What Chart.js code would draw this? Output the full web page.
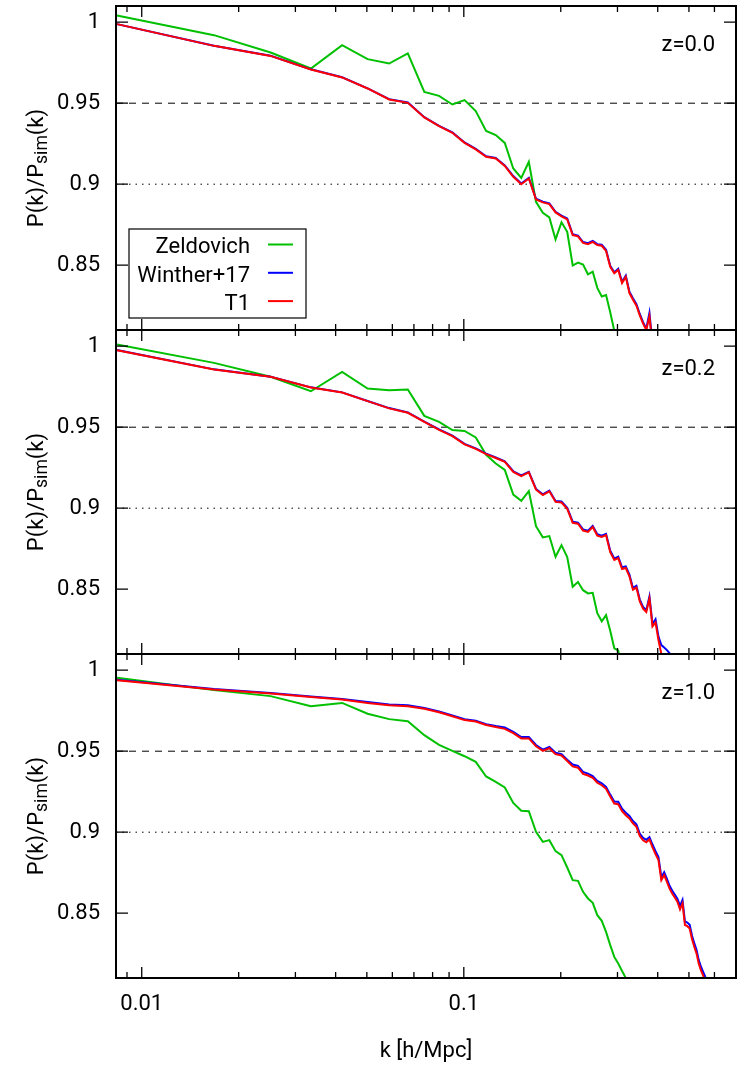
<!DOCTYPE html>
<html>
<head>
<meta charset="utf-8">
<title>P(k)/Psim(k)</title>
<script src="https://cdn.jsdelivr.net/npm/chart.js@4.4.1/dist/chart.umd.min.js"></script>
<style>
  html, body { margin: 0; background: #fff; }
  #wrap { position: relative; width: 744px; height: 1065px; background: #fff; }
  .panel { position: absolute; left: 0; width: 744px; }
</style>
</head>
<body>
<div id="wrap">
  <div class="panel" style="top:0px;height:332px"><canvas id="p0"></canvas></div>
  <div class="panel" style="top:328px;height:328px"><canvas id="p1"></canvas></div>
  <div class="panel" style="top:652px;height:413px"><canvas id="p2"></canvas></div>
</div>
<script>
const FONT = 'Roboto, "Liberation Sans", Arial, sans-serif';

// k bins [h/Mpc]
const kValues = [0.00838, 0.01676, 0.02513, 0.03351, 0.04189, 0.05027, 0.05864, 0.06702, 0.07540, 0.08378,
  0.09215, 0.10053, 0.10891, 0.11729, 0.12566, 0.13404, 0.14242, 0.15080, 0.15917, 0.16755,
  0.17593, 0.18431, 0.19268, 0.20106, 0.20944, 0.21782, 0.22619, 0.23457, 0.24295, 0.25133,
  0.25970, 0.26808, 0.27646, 0.28484, 0.29322, 0.30159, 0.30997, 0.31835, 0.32673, 0.33510,
  0.34348, 0.35186, 0.36024, 0.36861, 0.37699, 0.38537, 0.39375, 0.40212, 0.41050, 0.41888,
  0.42726, 0.43563, 0.44401, 0.45239, 0.46077, 0.46914, 0.47752, 0.48590, 0.49428, 0.50265,
  0.51103, 0.51941, 0.52779, 0.53617, 0.54454, 0.55292, 0.56130, 0.56968];

// z = 0.0
const zeldovichZ00 = [1.0041, 0.9920, 0.9813, 0.9714, 0.9858, 0.9772, 0.9745, 0.9807, 0.9570, 0.9545,
  0.9492, 0.9519, 0.9451, 0.9329, 0.9303, 0.9255, 0.9097, 0.9039, 0.9138, 0.8891,
  0.8823, 0.8795, 0.8659, 0.8765, 0.8706, 0.8498, 0.8516, 0.8504, 0.8444, 0.8460,
  0.8360, 0.8307, 0.8316, 0.8209, 0.8095, 0.8000];
const wintherZ00 = [0.9988, 0.9855, 0.9793, 0.9709, 0.9660, 0.9592, 0.9525, 0.9504, 0.9414, 0.9360,
  0.9320, 0.9258, 0.9218, 0.9172, 0.9162, 0.9116, 0.9050, 0.9004, 0.9039, 0.8910,
  0.8892, 0.8881, 0.8830, 0.8806, 0.8788, 0.8691, 0.8683, 0.8643, 0.8636, 0.8650,
  0.8630, 0.8626, 0.8595, 0.8497, 0.8457, 0.8478, 0.8398, 0.8436, 0.8336, 0.8296,
  0.8259, 0.8199, 0.8149, 0.8108, 0.8206, 0.8010, 0.7950];
const t1Z00 = [0.9988, 0.9854, 0.9792, 0.9708, 0.9659, 0.9591, 0.9523, 0.9502, 0.9412, 0.9358,
  0.9317, 0.9255, 0.9215, 0.9169, 0.9159, 0.9113, 0.9046, 0.9000, 0.9035, 0.8906,
  0.8888, 0.8877, 0.8826, 0.8802, 0.8783, 0.8686, 0.8678, 0.8638, 0.8630, 0.8644,
  0.8624, 0.8620, 0.8588, 0.8490, 0.8450, 0.8470, 0.8390, 0.8428, 0.8328, 0.8287,
  0.8250, 0.8190, 0.8140, 0.8100, 0.8185, 0.8000];

// z = 0.2
const zeldovichZ02 = [1.0010, 0.9897, 0.9811, 0.9722, 0.9841, 0.9739, 0.9728, 0.9733, 0.9570, 0.9533,
  0.9482, 0.9477, 0.9437, 0.9330, 0.9276, 0.9237, 0.9084, 0.9046, 0.9106, 0.8889,
  0.8820, 0.8828, 0.8700, 0.8772, 0.8698, 0.8515, 0.8544, 0.8494, 0.8474, 0.8478,
  0.8352, 0.8302, 0.8340, 0.8243, 0.8135, 0.8122, 0.8000];
const wintherZ02 = [0.9976, 0.9857, 0.9812, 0.9746, 0.9715, 0.9662, 0.9618, 0.9591, 0.9535, 0.9486,
  0.9448, 0.9397, 0.9369, 0.9337, 0.9313, 0.9289, 0.9228, 0.9202, 0.9225, 0.9119,
  0.9086, 0.9109, 0.9045, 0.9041, 0.9002, 0.8917, 0.8911, 0.8869, 0.8861, 0.8891,
  0.8839, 0.8830, 0.8842, 0.8737, 0.8689, 0.8701, 0.8635, 0.8641, 0.8590, 0.8508,
  0.8521, 0.8436, 0.8391, 0.8370, 0.8455, 0.8285, 0.8314, 0.8207, 0.8155, 0.8140,
  0.8124, 0.8104, 0.8080];
const t1Z02 = [0.9975, 0.9856, 0.9811, 0.9745, 0.9714, 0.9661, 0.9616, 0.9589, 0.9533, 0.9484,
  0.9445, 0.9394, 0.9366, 0.9334, 0.9310, 0.9286, 0.9224, 0.9198, 0.9221, 0.9114,
  0.9081, 0.9104, 0.9039, 0.9035, 0.8996, 0.8910, 0.8904, 0.8862, 0.8854, 0.8884,
  0.8831, 0.8822, 0.8834, 0.8728, 0.8680, 0.8692, 0.8625, 0.8631, 0.8580, 0.8497,
  0.8510, 0.8425, 0.8380, 0.8359, 0.8443, 0.8270, 0.8295, 0.8186, 0.8100, 0.8000];

// z = 1.0
const zeldovichZ10 = [0.9953, 0.9877, 0.9840, 0.9778, 0.9798, 0.9731, 0.9698, 0.9685, 0.9599, 0.9539,
  0.9502, 0.9469, 0.9434, 0.9344, 0.9311, 0.9276, 0.9181, 0.9132, 0.9130, 0.9002,
  0.8940, 0.8951, 0.8883, 0.8858, 0.8782, 0.8704, 0.8700, 0.8632, 0.8591, 0.8564,
  0.8488, 0.8453, 0.8385, 0.8303, 0.8230, 0.8190, 0.8143, 0.8100, 0.8000];
const wintherZ10 = [0.9941, 0.9884, 0.9859, 0.9838, 0.9822, 0.9803, 0.9789, 0.9783, 0.9767, 0.9745,
  0.9721, 0.9697, 0.9688, 0.9667, 0.9655, 0.9646, 0.9620, 0.9587, 0.9587, 0.9538,
  0.9510, 0.9526, 0.9490, 0.9482, 0.9448, 0.9418, 0.9410, 0.9372, 0.9362, 0.9347,
  0.9317, 0.9302, 0.9280, 0.9232, 0.9189, 0.9188, 0.9145, 0.9120, 0.9100, 0.9069,
  0.9048, 0.8991, 0.8965, 0.8953, 0.8970, 0.8924, 0.8883, 0.8846, 0.8722, 0.8753,
  0.8712, 0.8668, 0.8638, 0.8613, 0.8588, 0.8545, 0.8582, 0.8449, 0.8442, 0.8428,
  0.8362, 0.8315, 0.8274, 0.8212, 0.8171, 0.8140, 0.8110, 0.8070];
const t1Z10 = [0.9938, 0.9881, 0.9856, 0.9835, 0.9819, 0.9798, 0.9784, 0.9778, 0.9762, 0.9740,
  0.9716, 0.9692, 0.9683, 0.9662, 0.9650, 0.9638, 0.9612, 0.9579, 0.9579, 0.9530,
  0.9502, 0.9518, 0.9482, 0.9474, 0.9440, 0.9406, 0.9398, 0.9360, 0.9350, 0.9335,
  0.9305, 0.9290, 0.9268, 0.9220, 0.9177, 0.9173, 0.9130, 0.9105, 0.9085, 0.9054,
  0.9033, 0.8976, 0.8950, 0.8938, 0.8955, 0.8906, 0.8865, 0.8828, 0.8704, 0.8735,
  0.8694, 0.8650, 0.8620, 0.8595, 0.8570, 0.8523, 0.8560, 0.8427, 0.8420, 0.8406,
  0.8340, 0.8293, 0.8252, 0.8190, 0.8149, 0.8118, 0.8080];

const seriesNames = ['Zeldovich', 'Winther+17', 'T1'];
const seriesColors = ['#00c000', '#0000ff', '#ff0000'];
const redshiftLabels = ['z=0.0', 'z=0.2', 'z=1.0'];

const xMin = 0.00832, xMax = 0.70;
const yMin = 0.81, yMax = 1.01;
const yTickValues = [0.85, 0.9, 0.95, 1];
const yTickLabels = ['0.85', '0.9', '0.95', '1'];
const xMajorTicks = [0.01, 0.1];
const xTickLabels = ['0.01', '0.1'];
const xMinorTicks = [0.009, 0.02, 0.03, 0.04, 0.05, 0.06, 0.07, 0.08, 0.09, 0.2, 0.3, 0.4, 0.5, 0.6];
const dashedLevel = 0.95, dottedLevel = 0.9;

const pts = vals => vals.map((v, i) => ({ x: kValues[i], y: v }));

// frame, inward ticks, labels and legend (gnuplot look)
const decoPlugin = {
  id: 'deco',
  afterDraw(chart, args, o) {
    const { ctx, chartArea: a } = chart;
    const xs = chart.scales.x, ys = chart.scales.y;
    ctx.save();
    ctx.strokeStyle = '#000';
    ctx.lineWidth = 1.3;
    ctx.beginPath();
    yTickValues.forEach(v => {
      const py = ys.getPixelForValue(v);
      ctx.moveTo(a.left, py); ctx.lineTo(a.left + 12, py);
      ctx.moveTo(a.right, py); ctx.lineTo(a.right - 12, py);
    });
    const xTick = (v, len) => {
      const px = xs.getPixelForValue(v);
      ctx.moveTo(px, a.bottom); ctx.lineTo(px, a.bottom - len);
      ctx.moveTo(px, a.top); ctx.lineTo(px, a.top + len);
    };
    xMajorTicks.forEach(v => xTick(v, 11));
    xMinorTicks.forEach(v => xTick(v, 6));
    ctx.stroke();

    ctx.lineWidth = 2;
    ctx.strokeRect(a.left, a.top, a.right - a.left, a.bottom - a.top);

    ctx.fillStyle = '#000';
    ctx.font = '22px ' + FONT;
    ctx.textAlign = 'right';
    ctx.textBaseline = 'alphabetic';
    ctx.fillText(o.zLabel, a.right - 21, a.top + 45);

    // y title with subscript
    const cy = (a.top + a.bottom) / 2;
    const main1 = 'P(k)/P', sub = 'sim', main2 = '(k)';
    ctx.font = '22px ' + FONT;
    const w1 = ctx.measureText(main1).width, w3 = ctx.measureText(main2).width;
    ctx.font = '17.6px ' + FONT;
    const w2 = ctx.measureText(sub).width;
    const total = w1 + w2 + w3;
    ctx.save();
    ctx.translate(43, cy);
    ctx.rotate(-Math.PI / 2);
    ctx.textAlign = 'left';
    ctx.font = '22px ' + FONT;
    ctx.fillText(main1, -total / 2, 0);
    ctx.fillText(main2, -total / 2 + w1 + w2, 0);
    ctx.font = '17.6px ' + FONT;
    ctx.fillText(sub, -total / 2 + w1, 4);
    ctx.restore();

    if (o.legend) {
      const bx = a.left + 13, by = a.top + 223;
      ctx.lineWidth = 1.2;
      ctx.strokeStyle = '#000';
      ctx.strokeRect(bx, by, 177, 89);
      ctx.font = '22px ' + FONT;
      ctx.textAlign = 'right';
      seriesNames.forEach((name, i) => {
        const ry = by + 16.5 + i * 28.3;
        ctx.fillStyle = '#000';
        ctx.fillText(name, bx + 121, ry + 7.8);
        ctx.strokeStyle = seriesColors[i];
        ctx.lineWidth = 2;
        ctx.beginPath();
        ctx.moveTo(bx + 139, ry - 1);
        ctx.lineTo(bx + 164, ry - 1);
        ctx.stroke();
      });
    }
    ctx.restore();
  }
};

const panels = [
  { id: 'p0', zel: zeldovichZ00, win: wintherZ00, t1: t1Z00, padTop: 6, padBottom: 2, showX: false, legend: true },
  { id: 'p1', zel: zeldovichZ02, win: wintherZ02, t1: t1Z02, padTop: 2, padBottom: 2, showX: false, legend: false },
  { id: 'p2', zel: zeldovichZ10, win: wintherZ10, t1: t1Z10, padTop: 2, padBottom: 0, showX: true, legend: false }
];

panels.forEach((p, idx) => {
  const line = (label, data, color, order) => ({
    label, data: pts(data), borderColor: color, borderWidth: 2, order,
    pointRadius: 0, tension: 0, fill: false
  });
  const ref = (level, dash, order) => ({
    label: 'ref', data: [{ x: xMin, y: level }, { x: xMax, y: level }],
    borderColor: '#000', borderWidth: 1, borderDash: dash, order, pointRadius: 0
  });

  new Chart(document.getElementById(p.id), {
    type: 'line',
    data: {
      datasets: [
        line(seriesNames[2], p.t1, seriesColors[2], 1),
        line(seriesNames[1], p.win, seriesColors[1], 2),
        line(seriesNames[0], p.zel, seriesColors[0], 3),
        ref(dashedLevel, [7, 6], 4),
        ref(dottedLevel, [1.5, 5], 5)
      ]
    },
    options: {
      responsive: true,
      maintainAspectRatio: false,
      animation: false,
      events: [],
      layout: { padding: { top: p.padTop, bottom: p.padBottom, left: 0, right: 8 } },
      plugins: {
        legend: { display: false },
        tooltip: { enabled: false },
        deco: { zLabel: redshiftLabels[idx], legend: p.legend }
      },
      scales: {
        x: {
          type: 'logarithmic',
          min: xMin,
          max: xMax,
          display: p.showX,
          grid: { display: false, drawTicks: false },
          border: { display: false },
          afterBuildTicks: s => { s.ticks = xMajorTicks.map(v => ({ value: v })); },
          afterFit: s => {
            s.height = p.showX ? 87 : 0;
            s.paddingLeft = 0; s.paddingRight = 0;
          },
          ticks: {
            autoSkip: false,
            maxRotation: 0,
            padding: 13,
            color: '#000',
            font: { family: FONT, size: 22 },
            callback: (v, i) => xTickLabels[i]
          },
          title: {
            display: true,
            text: 'k [h/Mpc]',
            color: '#000',
            font: { family: FONT, size: 22 },
            padding: { top: 0, bottom: 0 }
          }
        },
        y: {
          min: yMin,
          max: yMax,
          grid: { display: false, drawTicks: false },
          border: { display: false },
          afterBuildTicks: s => { s.ticks = yTickValues.map(v => ({ value: v })); },
          afterFit: s => {
            s.width = 116;
            s.paddingTop = 0; s.paddingBottom = 0;
          },
          ticks: {
            padding: 16,
            color: '#000',
            font: { family: FONT, size: 22 },
            callback: (v, i) => yTickLabels[i]
          }
        }
      }
    },
    plugins: [decoPlugin]
  });
});
</script>
</body>
</html>
